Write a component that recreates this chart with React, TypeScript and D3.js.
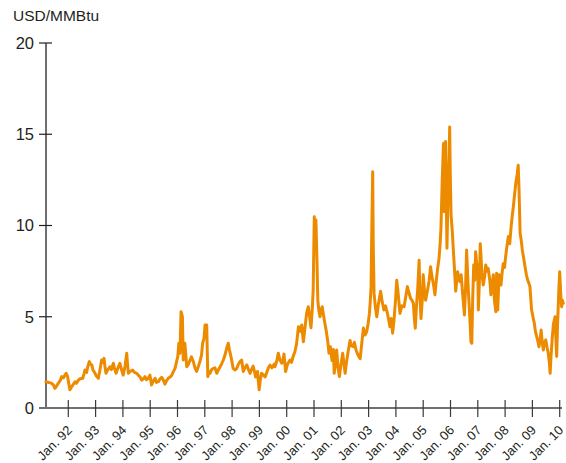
import React from "react";
import * as d3 from "d3";

// Henry Hub natural gas spot price, USD/MMBtu (decimal year, price)
const dates1991 = [1991.18, 1991.29, 1991.39, 1991.46, 1991.51, 1991.57, 1991.63, 1991.7, 1991.76, 1991.82, 1991.92, 1991.97];
const prices1991 = [1.44, 1.4, 1.35, 1.25, 1.08, 1.2, 1.35, 1.5, 1.72, 1.65, 1.9, 1.75];

const dates1992 = [1992.01, 1992.06, 1992.14, 1992.25, 1992.3, 1992.37, 1992.43, 1992.53, 1992.58, 1992.61, 1992.67, 1992.72, 1992.77, 1992.81, 1992.86, 1992.9, 1992.98];
const prices1992 = [1.4, 1.0, 1.2, 1.44, 1.35, 1.53, 1.6, 1.63, 1.9, 2.08, 1.95, 2.3, 2.54, 2.4, 2.36, 2.1, 1.9];

const dates1993 = [1993.03, 1993.1, 1993.16, 1993.22, 1993.27, 1993.31, 1993.34, 1993.38, 1993.45, 1993.53, 1993.58, 1993.65, 1993.69, 1993.75, 1993.82, 1993.89, 1993.95];
const prices1993 = [1.75, 1.63, 2.1, 2.63, 2.5, 2.72, 2.3, 1.9, 2.1, 2.26, 2.1, 2.45, 2.2, 1.9, 2.2, 2.45, 2.1];

const dates1994 = [1994.01, 1994.08, 1994.14, 1994.17, 1994.2, 1994.26, 1994.36, 1994.42, 1994.51, 1994.56, 1994.63, 1994.69, 1994.75, 1994.81, 1994.86, 1994.93, 1994.99];
const prices1994 = [1.8, 2.3, 3.0, 2.4, 1.9, 2.0, 2.08, 1.95, 1.9, 1.8, 1.7, 1.53, 1.6, 1.72, 1.55, 1.63, 1.8];

const dates1995 = [1995.05, 1995.12, 1995.18, 1995.23, 1995.3, 1995.36, 1995.42, 1995.49, 1995.54, 1995.6, 1995.66, 1995.73, 1995.79, 1995.85, 1995.91, 1995.96];
const prices1995 = [1.26, 1.5, 1.63, 1.4, 1.44, 1.6, 1.68, 1.5, 1.31, 1.5, 1.63, 1.7, 1.8, 2.0, 2.17, 2.5];

const dates1996 = [1996.01, 1996.05, 1996.09, 1996.13, 1996.18, 1996.21, 1996.25, 1996.27, 1996.34, 1996.4, 1996.46, 1996.51, 1996.58, 1996.64, 1996.7, 1996.77, 1996.82, 1996.88, 1996.92, 1996.97];
const prices1996 = [2.81, 3.55, 3.0, 5.28, 5.0, 2.63, 3.0, 3.55, 2.26, 2.4, 2.63, 2.8, 2.54, 2.2, 2.0, 2.3, 2.54, 2.9, 3.55, 3.8];

const dates1997 = [1997.01, 1997.07, 1997.11, 1997.15, 1997.19, 1997.25, 1997.31, 1997.37, 1997.44, 1997.5, 1997.56, 1997.61, 1997.68, 1997.74, 1997.8, 1997.86, 1997.9, 1997.96];
const prices1997 = [4.55, 4.55, 1.72, 2.0, 1.9, 2.1, 2.17, 2.2, 1.9, 2.1, 2.26, 2.4, 2.63, 2.9, 3.27, 3.55, 3.2, 2.81];

const dates1998 = [1998.0, 1998.04, 1998.11, 1998.17, 1998.23, 1998.29, 1998.35, 1998.41, 1998.47, 1998.54, 1998.6, 1998.66, 1998.71, 1998.77, 1998.82, 1998.86, 1998.93, 1998.99];
const prices1998 = [2.5, 2.17, 2.08, 2.17, 2.4, 2.54, 2.63, 2.0, 2.2, 2.36, 2.1, 1.9, 2.1, 2.3, 2.0, 1.7, 2.0, 1.0];

const dates1999 = [1999.04, 1999.08, 1999.15, 1999.21, 1999.28, 1999.33, 1999.39, 1999.46, 1999.54, 1999.57, 1999.64, 1999.69, 1999.76, 1999.82, 1999.87, 1999.9, 1999.96];
const prices1999 = [1.6, 1.9, 1.8, 1.7, 2.0, 2.2, 2.35, 2.2, 2.4, 2.26, 2.6, 3.0, 2.6, 2.45, 2.7, 2.96, 2.0];

const dates2000 = [2000.03, 2000.12, 2000.18, 2000.23, 2000.3, 2000.36, 2000.43, 2000.49, 2000.55, 2000.61, 2000.67, 2000.73, 2000.79, 2000.84, 2000.89, 2000.94, 2000.97];
const prices2000 = [2.4, 2.63, 2.5, 2.8, 3.08, 3.5, 4.45, 4.2, 4.55, 3.63, 4.4, 5.2, 5.55, 5.0, 4.4, 5.5, 6.46];

const dates2001 = [2001.01, 2001.04, 2001.07, 2001.11, 2001.14, 2001.18, 2001.22, 2001.26, 2001.3, 2001.38, 2001.44, 2001.5, 2001.55, 2001.6, 2001.66, 2001.71, 2001.74, 2001.79, 2001.83, 2001.88, 2001.93, 2001.99];
const prices2001 = [10.48, 9.8, 10.3, 8.0, 5.9, 5.3, 5.0, 5.4, 5.55, 4.8, 4.3, 3.7, 3.0, 3.36, 2.6, 3.2, 1.9, 2.5, 3.18, 2.2, 1.72, 2.4];

const dates2002 = [2002.05, 2002.1, 2002.14, 2002.19, 2002.25, 2002.32, 2002.37, 2002.44, 2002.48, 2002.54, 2002.61, 2002.69, 2002.74, 2002.81, 2002.87, 2002.93, 2002.98];
const prices2002 = [3.0, 2.4, 1.9, 2.5, 3.1, 3.7, 3.4, 3.36, 3.6, 3.18, 2.9, 2.7, 3.4, 4.38, 4.0, 4.18, 4.6];

const dates2003 = [2003.03, 2003.06, 2003.09, 2003.12, 2003.15, 2003.17, 2003.2, 2003.25, 2003.3, 2003.36, 2003.44, 2003.5, 2003.56, 2003.62, 2003.69, 2003.74, 2003.78, 2003.83, 2003.88, 2003.93, 2003.99];
const prices2003 = [5.18, 5.8, 6.65, 10.0, 12.95, 9.0, 6.28, 5.5, 5.0, 5.7, 6.4, 5.8, 5.37, 5.6, 5.18, 4.8, 4.45, 4.9, 4.1, 4.8, 6.0];

const dates2004 = [2004.03, 2004.08, 2004.15, 2004.22, 2004.3, 2004.35, 2004.42, 2004.48, 2004.54, 2004.59, 2004.64, 2004.67, 2004.71, 2004.75, 2004.8, 2004.85, 2004.88, 2004.92, 2004.97];
const prices2004 = [7.0, 6.3, 5.18, 5.6, 5.55, 6.0, 6.65, 6.3, 6.0, 5.9, 5.74, 5.0, 4.37, 5.5, 6.55, 8.1, 6.2, 4.9, 6.0];

const dates2005 = [2005.0, 2005.05, 2005.09, 2005.17, 2005.22, 2005.27, 2005.32, 2005.37, 2005.43, 2005.48, 2005.53, 2005.58, 2005.62, 2005.65, 2005.68, 2005.7, 2005.74, 2005.75, 2005.77, 2005.8, 2005.82, 2005.85, 2005.87, 2005.92, 2005.95, 2005.97, 2005.99];
const prices2005 = [7.3, 6.4, 5.9, 6.55, 7.0, 7.74, 7.2, 6.83, 6.2, 7.0, 7.65, 8.2, 9.0, 9.85, 11.5, 12.6, 14.4, 14.5, 10.75, 13.0, 14.6, 11.0, 8.75, 12.4, 13.8, 15.4, 13.0];

const dates2006 = [2006.02, 2006.07, 2006.1, 2006.15, 2006.19, 2006.23, 2006.26, 2006.31, 2006.35, 2006.39, 2006.43, 2006.47, 2006.51, 2006.55, 2006.59, 2006.62, 2006.65, 2006.7, 2006.75, 2006.78, 2006.81, 2006.85, 2006.89, 2006.92, 2006.96];
const prices2006 = [10.6, 9.6, 8.75, 7.5, 6.4, 7.0, 7.47, 7.0, 6.92, 7.3, 6.55, 5.8, 5.1, 6.5, 8.66, 7.6, 6.55, 5.2, 3.63, 3.55, 5.8, 7.84, 7.0, 8.56, 7.9];

const dates2007 = [2007.0, 2007.02, 2007.06, 2007.09, 2007.11, 2007.15, 2007.2, 2007.25, 2007.29, 2007.34, 2007.38, 2007.44, 2007.48, 2007.53, 2007.57, 2007.61, 2007.66, 2007.69, 2007.73, 2007.78, 2007.81, 2007.85, 2007.89, 2007.93, 2007.98];
const prices2007 = [7.47, 5.37, 7.0, 9.0, 8.5, 7.4, 6.74, 7.2, 7.84, 7.5, 7.65, 7.0, 6.2, 6.8, 7.3, 5.9, 5.28, 7.38, 5.37, 7.3, 7.2, 6.74, 7.4, 7.9, 7.7];

const dates2008 = [2008.02, 2008.07, 2008.12, 2008.17, 2008.22, 2008.26, 2008.3, 2008.34, 2008.39, 2008.44, 2008.48, 2008.51, 2008.55, 2008.59, 2008.63, 2008.68, 2008.73, 2008.78, 2008.83, 2008.88, 2008.91, 2008.95, 2008.97];
const prices2008 = [8.3, 8.9, 9.4, 9.0, 9.93, 10.5, 11.0, 11.6, 12.3, 12.8, 13.3, 12.0, 9.57, 9.2, 8.66, 8.2, 7.74, 7.3, 7.0, 6.8, 6.65, 5.8, 5.37];

const dates2009 = [2009.02, 2009.07, 2009.11, 2009.16, 2009.21, 2009.24, 2009.28, 2009.32, 2009.36, 2009.4, 2009.44, 2009.49, 2009.54, 2009.58, 2009.62, 2009.65, 2009.68, 2009.73, 2009.77, 2009.83, 2009.86, 2009.89, 2009.92, 2009.95, 2009.97];
const prices2009 = [5.0, 4.64, 4.2, 3.9, 3.6, 3.36, 3.7, 4.27, 3.6, 3.18, 3.6, 3.73, 3.3, 3.0, 2.5, 1.9, 2.8, 3.9, 4.6, 5.0, 3.8, 2.82, 4.5, 5.74, 6.5];

const dates2010 = [2010.0, 2010.04, 2010.07, 2010.1, 2010.13];
const prices2010 = [7.47, 6.2, 5.55, 5.9, 5.74];

const yTicks = [0, 5, 10, 15, 20];
const xTickYears = [1992, 1993, 1994, 1995, 1996, 1997, 1998, 1999, 2000, 2001, 2002, 2003, 2004, 2005, 2006, 2007, 2008, 2009, 2010];
const xTickLabels = ["Jan. 92", "Jan. 93", "Jan. 94", "Jan. 95", "Jan. 96", "Jan. 97", "Jan. 98", "Jan. 99", "Jan. 00", "Jan. 01", "Jan. 02", "Jan. 03", "Jan. 04", "Jan. 05", "Jan. 06", "Jan. 07", "Jan. 08", "Jan. 09", "Jan. 10"];
const unitLabel = "USD/MMBtu";

const allDates = [
  ...dates1991, ...dates1992, ...dates1993, ...dates1994, ...dates1995, ...dates1996, ...dates1997,
  ...dates1998, ...dates1999, ...dates2000, ...dates2001, ...dates2002, ...dates2003, ...dates2004,
  ...dates2005, ...dates2006, ...dates2007, ...dates2008, ...dates2009, ...dates2010,
];
const allPrices = [
  ...prices1991, ...prices1992, ...prices1993, ...prices1994, ...prices1995, ...prices1996, ...prices1997,
  ...prices1998, ...prices1999, ...prices2000, ...prices2001, ...prices2002, ...prices2003, ...prices2004,
  ...prices2005, ...prices2006, ...prices2007, ...prices2008, ...prices2009, ...prices2010,
];

const FONT = "'Liberation Sans', Arial, Helvetica, sans-serif";

export default function App() {
  const data = allDates.map((t, i) => ({ t, v: allPrices[i] }));
  const x = d3.scaleLinear().domain([1992, 2010]).range([68.3, 559.7]);
  const y = d3.scaleLinear().domain([0, 20]).range([408, 43]);
  const line = d3
    .line<{ t: number; v: number }>()
    .x((d) => x(d.t))
    .y((d) => y(d.v));

  const axisX = 46;
  const baseY = y(0);

  return (
    <svg
      width={566}
      height={463}
      style={{ position: "absolute", left: 0, top: 0, background: "#fff" }}
      fontFamily={FONT}
    >
      <text x={13} y={21} fontSize={15.5} fill="#231f20">
        {unitLabel}
      </text>

      {/* y axis */}
      <line x1={axisX} x2={axisX} y1={y(20)} y2={baseY} stroke="#231f20" strokeWidth={1.3} />
      {yTicks.map((t) => (
        <g key={t}>
          <line x1={39} x2={52} y1={y(t)} y2={y(t)} stroke="#231f20" strokeWidth={1.2} />
          <text x={34} y={y(t)} dy="0.36em" textAnchor="end" fontSize={16.5} fill="#231f20">
            {t}
          </text>
        </g>
      ))}

      {/* x axis */}
      <line x1={39} x2={562} y1={baseY} y2={baseY} stroke="#707070" strokeWidth={2} />
      {xTickYears.map((yr, i) => (
        <g key={yr}>
          <line x1={x(yr)} x2={x(yr)} y1={400} y2={417} stroke="#3a3a3a" strokeWidth={1.2} />
          <text
            transform={`translate(${x(yr) + 4.5},${431}) rotate(-45)`}
            textAnchor="end"
            fontSize={13}
            fill="#231f20"
          >
            {xTickLabels[i]}
          </text>
        </g>
      ))}

      <path
        d={line(data) || ""}
        fill="none"
        stroke="#ED8B00"
        strokeWidth={3}
        strokeLinejoin="round"
        strokeLinecap="round"
      />
    </svg>
  );
}
